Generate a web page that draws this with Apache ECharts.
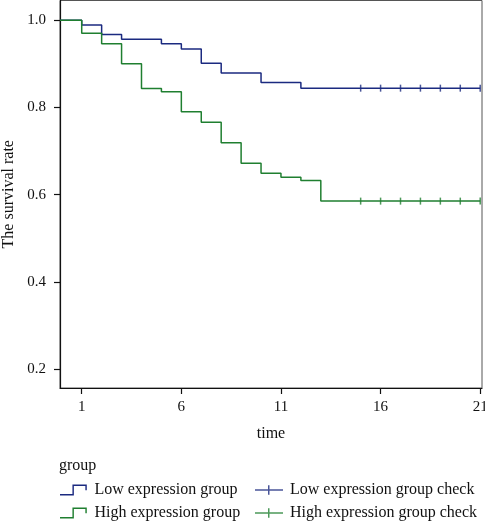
<!DOCTYPE html>
<html><head><meta charset="utf-8">
<script src="https://cdn.jsdelivr.net/npm/echarts@6/dist/echarts.min.js"></script>
<style>html,body{margin:0;padding:0;background:#fff}#c{width:485px;height:521px}</style>
</head><body><div id="c"></div>
<script>
// Kaplan-Meier step data (time, survival after event)
const lowTimes = [0, 1, 2, 3, 5, 6, 7, 8, 10, 12, 21];
const lowSurv  = [1.0, 0.989, 0.967, 0.956, 0.946, 0.934, 0.901, 0.879, 0.857, 0.844, 0.844];
const highTimes = [0, 1, 2, 3, 4, 5, 6, 7, 8, 9, 10, 11, 12, 13, 21];
const highSurv  = [1.0, 0.970, 0.946, 0.900, 0.843, 0.836, 0.790, 0.766, 0.719, 0.672, 0.649, 0.640, 0.632, 0.585, 0.585];
const lowCensorTimes = [15, 16, 17, 18, 19, 20, 21];
const lowCensorSurv = [0.844, 0.844, 0.844, 0.844, 0.844, 0.844, 0.844];
const highCensorTimes = [15, 16, 17, 18, 19, 20, 21];
const highCensorSurv = [0.585, 0.585, 0.585, 0.585, 0.585, 0.585, 0.585];
const xTicks = [1, 6, 11, 16, 21];
const yTicks = [0.2, 0.4, 0.6, 0.8, 1.0];
const seriesNames = ['Low expression group', 'High expression group', 'Low expression group check', 'High expression group check'];

const X_MIN = -0.09, X_MAX = 21.09, Y_MIN = 0.1565, Y_MAX = 1.045;
const BLUE = '#1b2a80', GREEN = '#1f7f30';
const FONT = '"Liberation Serif", "DejaVu Serif", serif';

function zip(a, b) { return a.map((v, i) => [v, b[i]]); }
const lowData = zip(lowTimes, lowSurv); lowData[0][0] = X_MIN;
const highData = zip(highTimes, highSurv); highData[0][0] = X_MIN;

const stepIcon = 'path://M0,10 L13,10 L13,0 L28,0 L28,6 L26.5,6 L26.5,1.5 L14.5,1.5 L14.5,11.5 L0,11.5 Z';
const checkIcon = 'path://M0,5 L13,5 L13,1 L14.5,1 L14.5,5 L28,5 L28,6.5 L14.5,6.5 L14.5,10.5 L13,10.5 L13,6.5 L0,6.5 Z';

function leg(name, icon, color, left, top) {
  return {orient: 'horizontal', left: left, top: top, itemWidth: 28, itemHeight: 11, itemGap: 0, padding: 0,
    textStyle: {fontFamily: FONT, fontSize: 16, color: '#111', padding: [0, 0, 0, 2]},
    data: [{name: name, icon: icon, itemStyle: {color: color}}]};
}

const chart = echarts.init(document.getElementById('c'), null, {renderer: 'canvas'});
chart.setOption({
  animation: false,
  backgroundColor: '#fff',
  textStyle: {fontFamily: FONT},
  title: {text: 'group', left: 59, top: 458, padding: 0, textStyle: {fontFamily: FONT, fontSize: 16, fontWeight: 'normal', color: '#111'}},
  grid: {left: 60, right: 3, top: 0.5, bottom: 133, show: true, borderColor: '#555', borderWidth: 1, outerBoundsMode: 'none', containLabel: false},
  xAxis: {
    type: 'value', min: X_MIN, max: X_MAX,
    name: 'time', nameLocation: 'middle', nameGap: 38,
    nameTextStyle: {fontFamily: FONT, fontSize: 16, color: '#111'},
    axisLine: {show: true, onZero: false, lineStyle: {color: '#111', width: 1.2}},
    axisTick: {show: true, length: 6, customValues: xTicks, lineStyle: {color: '#111', width: 1.2}},
    axisLabel: {customValues: xTicks, margin: 12, fontFamily: FONT, fontSize: 15, color: '#111'},
    splitLine: {show: false}
  },
  yAxis: {
    type: 'value', min: Y_MIN, max: Y_MAX,
    name: 'The survival rate', nameLocation: 'middle', nameGap: 42, nameRotate: 90,
    nameTextStyle: {fontFamily: FONT, fontSize: 16, color: '#111'},
    axisLine: {show: true, onZero: false, lineStyle: {color: '#111', width: 1.2}},
    axisTick: {show: true, length: 6, customValues: yTicks, lineStyle: {color: '#111', width: 1.2}},
    axisLabel: {customValues: yTicks, margin: 14, fontFamily: FONT, fontSize: 15, color: '#111', formatter: v => v.toFixed(1)},
    splitLine: {show: false}
  },
  legend: [
    leg(seriesNames[0], stepIcon, BLUE, 60, 482),
    leg(seriesNames[1], stepIcon, GREEN, 60, 505),
    leg(seriesNames[2], checkIcon, BLUE, 255, 482),
    leg(seriesNames[3], checkIcon, GREEN, 255, 505)
  ],
  series: [
    {name: seriesNames[0], type: 'line', step: 'end', data: lowData, symbol: 'none', color: BLUE, lineStyle: {color: BLUE, width: 1.5}, clip: true},
    {name: seriesNames[1], type: 'line', step: 'end', data: highData, symbol: 'none', color: GREEN, lineStyle: {color: GREEN, width: 1.5}, clip: true},
    {name: seriesNames[2], type: 'scatter', data: zip(lowCensorTimes, lowCensorSurv), symbol: 'rect', symbolSize: [1.5, 7], color: BLUE, itemStyle: {color: BLUE}, clip: false},
    {name: seriesNames[3], type: 'scatter', data: zip(highCensorTimes, highCensorSurv), symbol: 'rect', symbolSize: [1.5, 7], color: GREEN, itemStyle: {color: GREEN}, clip: false}
  ]
});
</script></body></html>
